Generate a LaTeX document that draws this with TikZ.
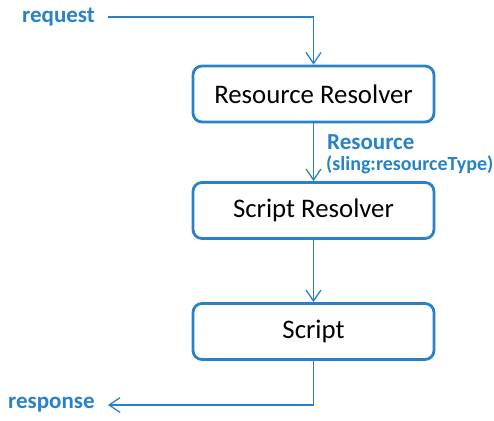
\documentclass[tikz,border=0pt]{standalone}
\usepackage{fontspec}
\setmainfont{Carlito}
\usetikzlibrary{arrows.meta}
\definecolor{sblue}{RGB}{40,130,200}
\tikzset{
  procbox/.style={draw=sblue, line width=2.8pt, rounded corners=9pt, minimum width=241pt, minimum height=56pt, inner sep=0pt, font=\fontsize{26.8}{32}\selectfont, text=black},
  flow/.style={draw=sblue, line width=1.3pt, -{Straight Barb[length=11pt,width=15pt,line width=1.3pt]}},
  lbl/.style={text=sblue, font=\fontsize{23}{27}\selectfont\bfseries, inner sep=0pt}
}
\begin{document}
\begin{tikzpicture}[x=1pt,y=-1pt]
\useasboundingbox (0,0) rectangle (494,420);
\node[procbox] (rr) at (313.5,94) {Resource Resolver};
\node[procbox] (sr) at (313.5,210.5) {Script Resolver};
\node[procbox] (sc) at (313.5,331.5) {Script};
\node[lbl, anchor=west] (req) at (22,17) {request};
\node[lbl, anchor=west] (resp) at (8,405) {response};
\node[lbl, anchor=west] (res) at (327,142) {Resource};
\node[lbl, anchor=west, font=\fontsize{20}{24}\selectfont\bfseries] (sling) at (326,165) {(sling:resourceType)};
\coordinate (reqstart) at (108,17);
\coordinate (respend) at (108,405);
\draw[flow] (reqstart) -| (rr.north);
\draw[flow] (rr.south) -- (sr.north);
\draw[flow] (sr.south) -- (sc.north);
\draw[flow] (sc.south) |- (respend);
\end{tikzpicture}
\end{document}
